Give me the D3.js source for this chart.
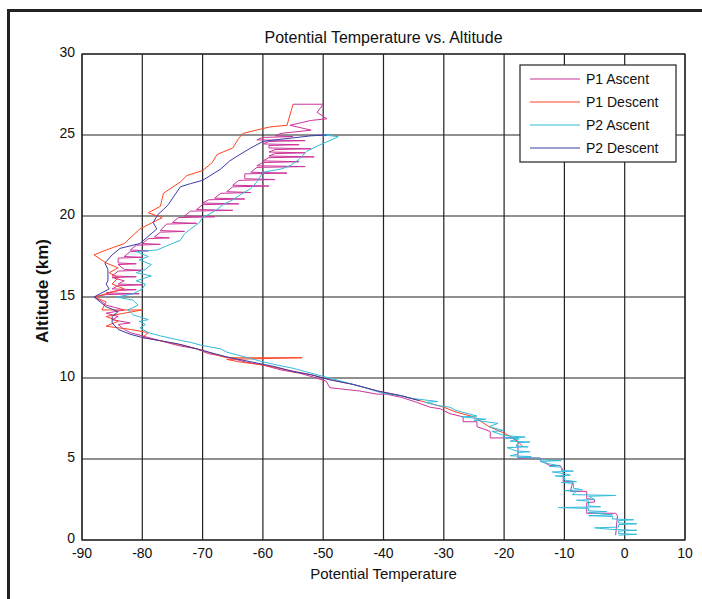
<!DOCTYPE html>
<html>
<head>
<meta charset="utf-8">
<script src="https://cdn.jsdelivr.net/npm/d3@7"></script>
<style>
  body { margin: 0; background: #fff; }
  text { font-family: "Liberation Sans", Arial, sans-serif; fill: #111; }
</style>
</head>
<body>
<svg id="chart" width="702" height="599"></svg>
<script>
// [temperature, altitude km]
let p1Ascent = [[-1.5,0.3],[-1.2,1.5],[-1.5,1.65],[-6.3,1.65],[-6.3,2.3],[-5,2.35],[-5,2.5],[-6.3,2.55],[-6.3,3.0],[-9,3.0],[-8.6,3.6],[-10.2,3.6],[-10.2,4.3],[-10.7,4.6],[-12.4,4.6],[-14,4.9],[-14,5.06],[-17.7,5.06],[-17.7,6.1],[-18.8,6.3],[-22.3,6.3],[-22.3,6.7],[-24.5,7.0],[-24.5,7.3],[-26.8,7.3],[-26.8,7.6],[-29,7.8],[-30.6,8.1],[-32.3,8.2],[-34.5,8.5],[-37,8.8],[-39.5,9.0],[-41,9.0],[-44,9.2],[-48.9,9.4],[-49.5,9.8],[-52,10.1],[-54,10.3],[-57,10.5],[-60,10.8],[-63,11.0],[-66,11.3],[-69,11.5],[-71,11.8],[-74,12.0],[-76,12.2],[-78,12.4],[-80,12.6],[-82,12.8],[-83,13.0],[-84,13.3],[-82,13.4],[-85,13.6],[-84,13.8],[-86,14.0],[-83,14.2],[-86,14.5],[-87,14.8],
  [-88,15.0],[-86,15.15],[-80.5,15.2],[-86,15.25],[-84,15.4],[-81,15.45],[-85,15.5],[-84,15.7],[-80,15.75],[-84,15.8],[-83,16.0],[-85,16.2],[-81,16.25],[-85,16.3],[-84,16.6],[-80,16.65],[-83,16.7],[-84,17.0],[-81,17.05],[-84,17.1],[-84,17.4],[-80,17.45],[-83,17.5],[-82,17.8],[-79,17.85],[-82,17.9],[-81,18.2],[-77,18.25],[-80,18.3],[-79,18.6],[-75.5,18.65],[-78,18.7],[-77,19.0],[-73,19.05],[-77,19.1],[-76,19.5],[-71,19.55],[-75,19.6],[-74,19.9],[-68,19.95],[-73,20.0],[-72,20.3],[-65,20.35],[-71,20.4],[-70,20.7],[-64,20.75],[-70,20.8],[-69,21.0],[-63,21.05],[-68,21.1],[-67,21.4],[-62,21.45],[-66,21.5],[-65,21.8],[-59,21.85],[-65,21.9],[-64,22.2],[-58,22.25],[-63,22.3],[-63,22.6],[-56,22.65],[-62,22.7],[-61,23.0],[-53,23.05],[-61,23.1],[-60,23.3],[-54,23.35],[-60,23.4],[-59,23.6],[-51.5,23.65],[-59,23.7],[-58,23.85],[-53,23.9],[-59,23.95],[-58,24.1],[-52,24.15],[-59,24.2],[-59,24.35],[-54,24.4],[-60,24.45],[-59,24.6],[-53,24.65],[-61,24.7],[-60,24.85],[-55,24.9],[-58,24.95],[-57,25.1],[-52,25.3],[-55.5,25.6],[-52,25.9],[-49.4,26.0],[-51,26.4],[-50,26.9],[-55,26.9]];

let p1Descent = [[-55,26.9],[-56,25.6],[-58.8,25.5],[-60,25.4],[-63.3,25.1],[-64,24.8],[-65,24.2],[-67.6,23.8],[-68.4,23.3],[-70,22.8],[-72.6,22.5],[-73.7,22.1],[-76.5,21.4],[-77,20.6],[-79,20.2],[-76.7,19.9],[-80.4,19.2],[-83,18.3],[-86,17.9],[-88,17.6],[-86,17.1],[-84,16.8],[-85.5,16.5],[-84,16.2],[-85,15.8],[-83,15.5],[-85,15.3],[-88,15.0],[-86,14.7],[-86.7,14.2],[-80,14.2],[-83,14.0],[-86,13.8],[-84,13.5],[-86,13.2],[-82,13.0],[-79,12.8],[-80,12.5],[-77,12.3],[-73,12.0],[-70,11.7],[-67,11.35],[-66,11.25],[-53.5,11.25],[-66,11.15],[-64,11.0],[-60,10.8],[-56,10.5],[-52,10.2],[-49,9.9],[-45,9.6],[-41,9.2],[-37,8.9],[-33,8.5],[-30,8.2],[-28,7.9],[-25,7.6],[-22.5,7.0],[-20,6.6],[-18.5,6.3],[-17.5,6.0],[-17,5.8]];

let p2Ascent = [[-1,0.3],[2,0.35],[-1,0.4],[-1,0.55],[2,0.6],[-2,0.65],[-5,0.75],[-1,0.8],[-1,0.95],[2,1.0],[-1,1.05],[-1,1.2],[1.5,1.25],[-2,1.3],[-2,1.45],[-6,1.5],[-2,1.55],[-6,1.7],[-3,1.75],[-6,1.8],[-6,1.95],[-11,2.0],[-4,2.05],[-6,2.1],[-6,2.4],[-8,2.45],[-5,2.5],[-6,2.7],[-1.5,2.75],[-8.7,2.8],[-8,3.0],[-10,3.05],[-7,3.1],[-8.5,3.2],[-8.5,3.5],[-10.5,3.55],[-8,3.6],[-10,3.7],[-10,3.9],[-11.5,3.95],[-9,4.0],[-10,4.1],[-12,4.2],[-8.5,4.25],[-10.5,4.3],[-10.5,4.5],[-12.5,4.55],[-11,4.6],[-12.5,4.7],[-14,4.85],[-10.5,4.9],[-14,4.95],[-14,5.05],[-17.7,5.1],[-15.5,5.15],[-19,5.2],[-17.7,5.3],[-17.7,5.4],[-15.7,5.45],[-18,5.5],[-19.5,5.7],[-16,5.75],[-18,5.8],[-17.7,6.0],[-15.7,6.05],[-19,6.1],[-17.5,6.25],[-20,6.3],[-16.5,6.35],[-20,6.45],[-22,6.7],[-20,6.75],[-22.5,7.0],[-21,7.2],[-25,7.4],[-23,7.45],[-27,7.6],[-24.5,7.65],[-28,8.0],[-29,8.2],[-31,8.3],[-33,8.5],[-31,8.55],[-35.5,8.75],[-37,8.9],[-39,9.0],[-40.5,9.1],[-43,9.4],[-46,9.7],[-49,10.0],[-52,10.3],[-55,10.6],[-57,10.75],[-60,11.0],[-63,11.3],[-66,11.6],[-67,11.8],[-70,12.0],[-72,12.2],[-74,12.35],[-77,12.6],[-79,12.8],[-80.4,13.1],[-79.5,13.3],[-80.5,13.5],[-79,13.6],[-81.5,13.9],[-82.4,14.2],[-80.7,14.5],[-81.5,14.8],[-84.2,15.0],[-81.5,15.2],[-80,15.5],[-79.5,15.8],[-81,16.0],[-78.5,16.3],[-81,16.5],[-79.5,16.7],[-78.5,17.0],[-80.5,17.3],[-79,17.5],[-81,17.8],[-77.6,17.9],[-75,18.3],[-73.7,18.5],[-73,18.9],[-72,19.2],[-70.5,19.6],[-70,19.9],[-68,20.3],[-66.6,20.7],[-65,21.0],[-63.8,21.3],[-62,21.7],[-61,22.1],[-60,22.7],[-57,22.9],[-55.5,23.1],[-54,23.5],[-52.7,24.0],[-50.5,24.4],[-48,24.8],[-47.5,24.9],[-50,25.0],[-49,25.05]];

let p2Descent = [[-49.4,25.0],[-52,24.95],[-55.5,24.8],[-58,24.7],[-60,24.6],[-62,24.2],[-63.8,23.8],[-65.5,23.4],[-67,22.9],[-70,22.2],[-72,22.0],[-73.7,21.8],[-75.7,20.7],[-76.5,20.4],[-77.4,20.1],[-78.2,19.6],[-77.6,19.2],[-80.4,18.3],[-83.7,18.0],[-85,17.6],[-86.2,17.1],[-85.7,16.7],[-85.7,16.0],[-86,15.8],[-85.5,15.5],[-87,15.2],[-88,15.0],[-87,14.7],[-86,14.4],[-84,14.1],[-85,13.8],[-85,13.4],[-84,13.0],[-82,12.7],[-80,12.5],[-77,12.3],[-74,12.1],[-70,11.7],[-66,11.3],[-62,11.0],[-58,10.7],[-55,10.4],[-52,10.2],[-49,9.9],[-45,9.6],[-41,9.2],[-37,8.9],[-34,8.6]];

let seriesNames = ["P1 Ascent", "P1 Descent", "P2 Ascent", "P2 Descent"];
let seriesColors = ["#cc3399", "#ff4422", "#33bbdd", "#3c3caa"];
let seriesData = [p1Ascent, p1Descent, p2Ascent, p2Descent];

let xTicks = [-90, -80, -70, -60, -50, -40, -30, -20, -10, 0, 10];
let yTicks = [0, 5, 10, 15, 20, 25, 30];

let svg = d3.select("#chart");

let scaleX = d3.scaleLinear().domain([-90, 10]).range([82, 685]);
let scaleY = d3.scaleLinear().domain([0, 30]).range([540, 54]);

// figure frame (left and top edges visible)
svg.append("path")
    .attr("d", "M8.5,599 L8.5,10.5 L702,10.5")
    .attr("fill", "none")
    .attr("stroke", "#222")
    .attr("stroke-width", 3);

// grid
xTicks.forEach(t => {
    svg.append("line")
        .attr("x1", scaleX(t)).attr("x2", scaleX(t))
        .attr("y1", scaleY(0)).attr("y2", scaleY(30))
        .attr("stroke", "#222").attr("stroke-width", 1.2);
    svg.append("text")
        .text(t)
        .attr("x", scaleX(t))
        .attr("y", scaleY(0) + 18)
        .attr("text-anchor", "middle")
        .style("font-size", "14px");
});
yTicks.forEach(t => {
    svg.append("line")
        .attr("x1", scaleX(-90)).attr("x2", scaleX(10))
        .attr("y1", scaleY(t)).attr("y2", scaleY(t))
        .attr("stroke", "#222").attr("stroke-width", 1.2);
    svg.append("text")
        .text(t)
        .attr("x", scaleX(-90) - 7)
        .attr("y", scaleY(t) + 3)
        .attr("text-anchor", "end")
        .style("font-size", "14px");
});

let line = d3.line().x(d => scaleX(d[0])).y(d => scaleY(d[1]));

seriesData.forEach(function(s, i) {
    svg.append("path")
        .datum(s)
        .attr("d", line)
        .attr("fill", "none")
        .attr("stroke", seriesColors[i])
        .attr("stroke-width", 1)
        .attr("stroke-linejoin", "round");
});

// axes box
svg.append("rect")
    .attr("x", scaleX(-90)).attr("y", scaleY(30))
    .attr("width", scaleX(10) - scaleX(-90))
    .attr("height", scaleY(0) - scaleY(30))
    .attr("fill", "none").attr("stroke", "#222").attr("stroke-width", 1.2);

// titles
svg.append("text")
    .text("Potential Temperature vs. Altitude")
    .attr("x", (scaleX(-90) + scaleX(10)) / 2)
    .attr("y", 43)
    .attr("text-anchor", "middle")
    .style("font-size", "16px");

svg.append("text")
    .text("Potential Temperature")
    .attr("x", (scaleX(-90) + scaleX(10)) / 2)
    .attr("y", 579)
    .attr("text-anchor", "middle")
    .style("font-size", "15px");

svg.append("text")
    .text("Altitude (km)")
    .attr("transform", "translate(48," + ((scaleY(0) + scaleY(30)) / 2 - 6) + ") rotate(-90)")
    .attr("text-anchor", "middle")
    .attr("textLength", 104)
    .attr("lengthAdjust", "spacingAndGlyphs")
    .style("font-size", "16px")
    .style("font-weight", "bold");

// legend
let legend = svg.append("g").attr("transform", "translate(520,65)");
legend.append("rect")
    .attr("width", 156).attr("height", 97)
    .attr("fill", "#fff").attr("stroke", "#222").attr("stroke-width", 1.2);
seriesNames.forEach(function(name, i) {
    let yy = 14 + i * 23;
    legend.append("line")
        .attr("x1", 10).attr("x2", 60)
        .attr("y1", yy).attr("y2", yy)
        .attr("stroke", seriesColors[i]).attr("stroke-width", 1.2);
    legend.append("text")
        .text(name)
        .attr("x", 66).attr("y", yy + 5)
        .style("font-size", "14px");
});
</script>
</body>
</html>
